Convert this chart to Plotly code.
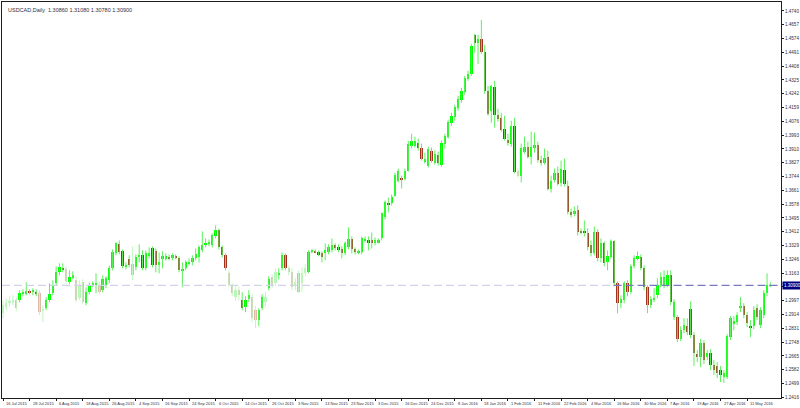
import plotly.graph_objects as go

SYMBOL_TITLE = "USDCAD,Daily  1.30860 1.31080 1.30780 1.30900"

OPENS = [
    1.2922, 1.2958, 1.2982, 1.2988, 1.3000, 1.3000, 1.3042, 1.3042, 1.3048, 1.3048,
    1.3048, 1.3042, 1.2934, 1.2952, 1.3000, 1.3042, 1.3102, 1.3168, 1.3192, 1.3186,
    1.3108, 1.3138, 1.3120, 1.3012, 1.3108, 1.2982, 1.3048, 1.3090, 1.3096, 1.3090,
    1.3060, 1.3090, 1.3120, 1.3192, 1.3282, 1.3336, 1.3294, 1.3204, 1.3246, 1.3216,
    1.3198, 1.3264, 1.3270, 1.3192, 1.3270, 1.3312, 1.3294, 1.3210, 1.3252, 1.3252,
    1.3258, 1.3252, 1.3264, 1.3252, 1.3180, 1.3192, 1.3222, 1.3228, 1.3252, 1.3258,
    1.3300, 1.3330, 1.3336, 1.3330, 1.3384, 1.3420, 1.3318, 1.3270, 1.3162, 1.3090,
    1.3018, 1.3060, 1.3000, 1.2958, 1.3006, 1.3018, 1.2940, 1.2880, 1.2952, 1.2988,
    1.3072, 1.3138, 1.3102, 1.3156, 1.3192, 1.3270, 1.3192, 1.3168, 1.3090, 1.3162,
    1.3102, 1.3162, 1.3168, 1.3288, 1.3294, 1.3288, 1.3282, 1.3282, 1.3288, 1.3300,
    1.3330, 1.3318, 1.3306, 1.3282, 1.3318, 1.3366, 1.3306, 1.3282, 1.3288, 1.3360,
    1.3360, 1.3360, 1.3342, 1.3348, 1.3372, 1.3498, 1.3582, 1.3582, 1.3630, 1.3720,
    1.3732, 1.3732, 1.3780, 1.3930, 1.3930, 1.3948, 1.3918, 1.3834, 1.3810, 1.3900,
    1.3828, 1.3876, 1.3816, 1.3942, 1.3984, 1.4068, 1.4104, 1.4158, 1.4206, 1.4254,
    1.4332, 1.4362, 1.4596, 1.4548, 1.4572, 1.4494, 1.4260, 1.4140, 1.4284, 1.4116,
    1.4098, 1.4032, 1.3966, 1.3942, 1.4050, 1.3780, 1.3750, 1.3894, 1.3924, 1.3864,
    1.3918, 1.3936, 1.3846, 1.3828, 1.3864, 1.3672, 1.3726, 1.3768, 1.3708, 1.3786,
    1.3690, 1.3528, 1.3516, 1.3540, 1.3414, 1.3414, 1.3402, 1.3330, 1.3282, 1.3408,
    1.3252, 1.3342, 1.3228, 1.3258, 1.3354, 1.3102, 1.2982, 1.3000, 1.3102, 1.3048,
    1.3204, 1.3252, 1.3258, 1.3192, 1.3078, 1.2970, 1.3000, 1.3030, 1.3090, 1.3090,
    1.3090, 1.3150, 1.2898, 1.2898, 1.2766, 1.2820, 1.2844, 1.2946, 1.2790, 1.2676,
    1.2658, 1.2742, 1.2658, 1.2682, 1.2610, 1.2604, 1.2580, 1.2538, 1.2538, 1.2778,
    1.2856, 1.2868, 1.2952, 1.2964, 1.2910, 1.2844, 1.2844, 1.2952, 1.2850, 1.2910,
    1.3042, 1.3086,
]
HIGHS = [
    1.3000, 1.3012, 1.3024, 1.3030, 1.3018, 1.3060, 1.3066, 1.3108, 1.3066, 1.3072,
    1.3066, 1.3060, 1.2970, 1.3018, 1.3102, 1.3120, 1.3204, 1.3222, 1.3222, 1.3204,
    1.3180, 1.3174, 1.3144, 1.3120, 1.3126, 1.3078, 1.3108, 1.3114, 1.3162, 1.3114,
    1.3150, 1.3144, 1.3210, 1.3306, 1.3348, 1.3360, 1.3306, 1.3228, 1.3270, 1.3324,
    1.3276, 1.3336, 1.3300, 1.3300, 1.3318, 1.3324, 1.3312, 1.3288, 1.3294, 1.3282,
    1.3276, 1.3282, 1.3276, 1.3264, 1.3228, 1.3240, 1.3252, 1.3270, 1.3312, 1.3330,
    1.3414, 1.3372, 1.3366, 1.3402, 1.3450, 1.3432, 1.3330, 1.3282, 1.3180, 1.3102,
    1.3084, 1.3084, 1.3048, 1.3024, 1.3060, 1.3036, 1.2964, 1.2952, 1.3036, 1.3048,
    1.3144, 1.3156, 1.3192, 1.3192, 1.3288, 1.3282, 1.3210, 1.3192, 1.3132, 1.3180,
    1.3198, 1.3216, 1.3300, 1.3306, 1.3306, 1.3300, 1.3294, 1.3342, 1.3336, 1.3372,
    1.3342, 1.3336, 1.3324, 1.3354, 1.3438, 1.3384, 1.3318, 1.3306, 1.3384, 1.3384,
    1.3384, 1.3408, 1.3378, 1.3372, 1.3528, 1.3600, 1.3618, 1.3636, 1.3768, 1.3792,
    1.3750, 1.3792, 1.3960, 1.4002, 1.3984, 1.3972, 1.3942, 1.3888, 1.3924, 1.3918,
    1.3900, 1.3894, 1.3960, 1.4002, 1.4086, 1.4128, 1.4176, 1.4230, 1.4278, 1.4350,
    1.4380, 1.4542, 1.4602, 1.4596, 1.4686, 1.4536, 1.4290, 1.4296, 1.4320, 1.4152,
    1.4128, 1.4110, 1.4002, 1.4080, 1.4098, 1.3798, 1.3942, 1.3984, 1.3954, 1.4014,
    1.4008, 1.3954, 1.3870, 1.3912, 1.3900, 1.3750, 1.3792, 1.3804, 1.3840, 1.3852,
    1.3720, 1.3552, 1.3564, 1.3570, 1.3432, 1.3480, 1.3432, 1.3360, 1.3444, 1.3426,
    1.3372, 1.3354, 1.3300, 1.3366, 1.3360, 1.3114, 1.3030, 1.3114, 1.3120, 1.3216,
    1.3270, 1.3294, 1.3276, 1.3210, 1.3090, 1.3024, 1.3072, 1.3132, 1.3168, 1.3180,
    1.3180, 1.3180, 1.3006, 1.2910, 1.2844, 1.2892, 1.2892, 1.2994, 1.2808, 1.2700,
    1.2766, 1.2760, 1.2700, 1.2706, 1.2640, 1.2628, 1.2604, 1.2580, 1.2796, 1.2904,
    1.2904, 1.2928, 1.3018, 1.2982, 1.2928, 1.2880, 1.2964, 1.2976, 1.2958, 1.3060,
    1.3162, 1.3108,
]
LOWS = [
    1.2892, 1.2940, 1.2964, 1.2970, 1.2934, 1.2988, 1.3024, 1.3030, 1.3036, 1.3030,
    1.3024, 1.2910, 1.2868, 1.2940, 1.2988, 1.3030, 1.3090, 1.3150, 1.3168, 1.3096,
    1.3096, 1.3126, 1.2988, 1.3000, 1.2976, 1.2970, 1.3036, 1.3078, 1.3042, 1.3036,
    1.3048, 1.3072, 1.3102, 1.3180, 1.3270, 1.3276, 1.3192, 1.3186, 1.3198, 1.3120,
    1.3180, 1.3228, 1.3180, 1.3180, 1.3252, 1.3198, 1.3168, 1.3162, 1.3192, 1.3240,
    1.3240, 1.3240, 1.3246, 1.3168, 1.3078, 1.3180, 1.3210, 1.3210, 1.3240, 1.3228,
    1.3288, 1.3318, 1.3324, 1.3318, 1.3372, 1.3306, 1.3258, 1.3180, 1.3078, 1.3024,
    1.2994, 1.3000, 1.2940, 1.2928, 1.2988, 1.2868, 1.2832, 1.2844, 1.2940, 1.2964,
    1.3060, 1.3072, 1.3084, 1.3126, 1.3180, 1.3180, 1.3150, 1.3060, 1.3060, 1.3042,
    1.3048, 1.3144, 1.3162, 1.3282, 1.3282, 1.3264, 1.3228, 1.3240, 1.3276, 1.3288,
    1.3300, 1.3288, 1.3252, 1.3270, 1.3306, 1.3282, 1.3276, 1.3276, 1.3276, 1.3348,
    1.3300, 1.3312, 1.3330, 1.3342, 1.3360, 1.3486, 1.3528, 1.3570, 1.3624, 1.3708,
    1.3672, 1.3720, 1.3774, 1.3912, 1.3918, 1.3900, 1.3840, 1.3822, 1.3798, 1.3828,
    1.3816, 1.3810, 1.3804, 1.3912, 1.3972, 1.4050, 1.4080, 1.4140, 1.4188, 1.4236,
    1.4320, 1.4350, 1.4488, 1.4422, 1.4482, 1.4242, 1.4110, 1.4068, 1.4038, 1.4074,
    1.4014, 1.3960, 1.3930, 1.3924, 1.3762, 1.3738, 1.3708, 1.3882, 1.3852, 1.3816,
    1.3888, 1.3828, 1.3810, 1.3816, 1.3660, 1.3648, 1.3708, 1.3690, 1.3684, 1.3684,
    1.3516, 1.3498, 1.3504, 1.3390, 1.3396, 1.3384, 1.3300, 1.3264, 1.3270, 1.3234,
    1.3228, 1.3204, 1.3180, 1.3246, 1.3084, 1.2922, 1.2952, 1.2982, 1.3024, 1.3036,
    1.3192, 1.3240, 1.3180, 1.3060, 1.2922, 1.2952, 1.2988, 1.3012, 1.3078, 1.3072,
    1.3078, 1.2970, 1.2880, 1.2748, 1.2754, 1.2802, 1.2790, 1.2772, 1.2604, 1.2628,
    1.2598, 1.2616, 1.2640, 1.2580, 1.2550, 1.2532, 1.2508, 1.2502, 1.2526, 1.2760,
    1.2820, 1.2850, 1.2928, 1.2892, 1.2838, 1.2778, 1.2826, 1.2880, 1.2832, 1.2892,
    1.3024, 1.3078,
]
CLOSES = [
    1.2970, 1.2982, 1.2994, 1.3000, 1.2952, 1.3042, 1.3048, 1.3054, 1.3046, 1.3060,
    1.3042, 1.2928, 1.2946, 1.3000, 1.3036, 1.3084, 1.3168, 1.3198, 1.3186, 1.3114,
    1.3138, 1.3150, 1.3000, 1.3090, 1.2988, 1.3048, 1.3090, 1.3102, 1.3102, 1.3048,
    1.3126, 1.3132, 1.3192, 1.3288, 1.3342, 1.3288, 1.3204, 1.3210, 1.3210, 1.3150,
    1.3258, 1.3270, 1.3192, 1.3282, 1.3282, 1.3210, 1.3210, 1.3228, 1.3264, 1.3264,
    1.3252, 1.3270, 1.3258, 1.3180, 1.3186, 1.3228, 1.3228, 1.3252, 1.3276, 1.3318,
    1.3330, 1.3342, 1.3348, 1.3390, 1.3420, 1.3318, 1.3270, 1.3192, 1.3090, 1.3042,
    1.3060, 1.3030, 1.2952, 1.3000, 1.3030, 1.2892, 1.2880, 1.2940, 1.3018, 1.3018,
    1.3126, 1.3090, 1.3168, 1.3162, 1.3270, 1.3192, 1.3168, 1.3078, 1.3108, 1.3048,
    1.3162, 1.3192, 1.3288, 1.3300, 1.3288, 1.3276, 1.3258, 1.3300, 1.3318, 1.3330,
    1.3318, 1.3300, 1.3282, 1.3342, 1.3366, 1.3306, 1.3288, 1.3294, 1.3372, 1.3366,
    1.3348, 1.3342, 1.3360, 1.3360, 1.3522, 1.3588, 1.3576, 1.3624, 1.3756, 1.3780,
    1.3726, 1.3780, 1.3942, 1.3960, 1.3960, 1.3918, 1.3852, 1.3852, 1.3912, 1.3840,
    1.3882, 1.3828, 1.3948, 1.3990, 1.4074, 1.4110, 1.4164, 1.4212, 1.4260, 1.4338,
    1.4362, 1.4530, 1.4548, 1.4572, 1.4494, 1.4260, 1.4122, 1.4290, 1.4116, 1.4092,
    1.4026, 1.3972, 1.3948, 1.4050, 1.3774, 1.3750, 1.3918, 1.3924, 1.3864, 1.3924,
    1.3936, 1.3846, 1.3828, 1.3858, 1.3672, 1.3720, 1.3768, 1.3702, 1.3792, 1.3702,
    1.3528, 1.3510, 1.3534, 1.3408, 1.3408, 1.3402, 1.3318, 1.3282, 1.3408, 1.3252,
    1.3342, 1.3222, 1.3264, 1.3354, 1.3102, 1.2982, 1.3006, 1.3102, 1.3048, 1.3204,
    1.3252, 1.3264, 1.3192, 1.3078, 1.2970, 1.3006, 1.3012, 1.3090, 1.3138, 1.3138,
    1.3150, 1.2988, 1.2988, 1.2766, 1.2820, 1.2850, 1.2808, 1.2790, 1.2682, 1.2658,
    1.2742, 1.2640, 1.2682, 1.2610, 1.2580, 1.2562, 1.2550, 1.2562, 1.2784, 1.2892,
    1.2874, 1.2910, 1.2964, 1.2910, 1.2862, 1.2838, 1.2940, 1.2898, 1.2940, 1.3042,
    1.3090, 1.3090,
]

# bars washed out by the watermark in the original screenshot
FADED_BARS = [0, 1, 2, 3, 4, 11, 12, 19, 22, 23, 24, 29, 39, 68, 69, 70, 71, 75, 76,
              79, 81, 82, 86, 87, 88, 89, 90, 91, 155]

DATE_LABELS = [
    "16 Jul 2015", "28 Jul 2015", "6 Aug 2015", "18 Aug 2015", "26 Aug 2015",
    "4 Sep 2015", "16 Sep 2015", "24 Sep 2015", "6 Oct 2015", "14 Oct 2015",
    "26 Oct 2015", "3 Nov 2015", "13 Nov 2015", "23 Nov 2015", "3 Dec 2015",
    "16 Dec 2015", "24 Dec 2015", "8 Jan 2016", "18 Jan 2016", "1 Feb 2016",
    "11 Feb 2016", "22 Feb 2016", "4 Mar 2016", "16 Mar 2016", "30 Mar 2016",
    "7 Apr 2016", "19 Apr 2016", "27 Apr 2016", "11 May 2016",
]
DATE_LABEL_STEP = 8

PRICE_TICKS = [
    1.4740, 1.4657, 1.4574, 1.4491, 1.4408, 1.4325, 1.4242, 1.4159, 1.4076, 1.3993,
    1.3910, 1.3827, 1.3744, 1.3661, 1.3578, 1.3495, 1.3412, 1.3329, 1.3246, 1.3163,
    1.3080, 1.2997, 1.2914, 1.2831, 1.2748, 1.2665, 1.2582, 1.2499, 1.2416,
]

COLORS = {
    "bull": "#00ff00",
    "bear": "#a3301e",
    "bull_faded": "#b4f7b4",
    "bear_faded": "#dcb8a8",
    "wick": "#5cf05c",
    "wick_faded": "#c4f5c4",
    "axis": "#1e1e1e",
    "text": "#303040",
    "bid_light": "#d2d2e8",
    "bid_dark": "#7878be",
    "bid_box": "#000080",
}
FONT = "Liberation Sans, Arial, sans-serif"

index = list(range(len(CLOSES)))
faded = set(FADED_BARS)

# wicks
wick_x, wick_y, fwick_x, fwick_y = [], [], [], []
for i in index:
    xs, ys = (fwick_x, fwick_y) if i in faded else (wick_x, wick_y)
    xs += [i, i, None]
    ys += [LOWS[i], HIGHS[i], None]

# bodies
body_base, body_height, body_color = [], [], []
for i in index:
    o, c = OPENS[i], CLOSES[i]
    bull = c >= o
    body_base.append(min(o, c))
    body_height.append(max(abs(c - o), 0.0004))
    key = "bull" if bull else "bear"
    if i in faded:
        key += "_faded"
    body_color.append(COLORS[key])

fig = go.Figure()
fig.add_trace(go.Scatter(x=fwick_x, y=fwick_y, mode="lines",
                         line={"color": COLORS["wick_faded"], "width": 1},
                         hoverinfo="skip"))
fig.add_trace(go.Scatter(x=wick_x, y=wick_y, mode="lines",
                         line={"color": COLORS["wick"], "width": 1},
                         hoverinfo="skip"))
fig.add_trace(go.Bar(x=index, y=body_height, base=body_base, width=0.7,
                     marker={"color": body_color, "line": {"width": 0}},
                     hoverinfo="skip"))

last_price = CLOSES[-1]
split_bar = 183.8
x_range = [-0.3, 234.2]

# bid line, faded on the left like the reference
fig.add_shape(type="line", xref="x", yref="y", x0=x_range[0], x1=split_bar,
              y0=last_price, y1=last_price,
              line={"color": COLORS["bid_light"], "width": 1.3, "dash": "8px,4px"})
fig.add_shape(type="line", xref="x", yref="y", x0=split_bar, x1=x_range[1],
              y0=last_price, y1=last_price,
              line={"color": COLORS["bid_dark"], "width": 1.3, "dash": "8px,4px"})

fig.add_annotation(text=f"{last_price:.5f}", xref="paper", yref="y", x=1, y=last_price,
                   xanchor="left", yanchor="middle", xshift=1, showarrow=False,
                   bgcolor=COLORS["bid_box"], borderpad=1,
                   font={"family": FONT, "size": 4.5, "color": "#ffffff"})

fig.add_annotation(text=SYMBOL_TITLE, xref="paper", yref="paper", x=0, y=1,
                   xanchor="left", yanchor="top", xshift=4, yshift=-3, showarrow=False,
                   font={"family": FONT, "size": 5.5, "color": COLORS["text"]})

tick_bars = [k * DATE_LABEL_STEP for k in range(len(DATE_LABELS))]
for bar, label in zip(tick_bars, DATE_LABELS):
    fig.add_annotation(text=label, xref="x", yref="paper", x=bar, y=0,
                       xanchor="left", yanchor="top", xshift=1, yshift=-1,
                       showarrow=False,
                       font={"family": FONT, "size": 4, "color": COLORS["text"]})

# the grid label under the bid box is hidden in the reference
price_text = [
    "" if abs(v - last_price) < 0.0012 else f"{v:.4f}" for v in PRICE_TICKS
]

fig.update_layout(
    width=800,
    height=408,
    margin={"l": 1, "r": 17, "t": 1, "b": 10},
    paper_bgcolor="#ffffff",
    plot_bgcolor="#ffffff",
    showlegend=False,
    bargap=0,
    hovermode=False,
    font={"family": FONT, "size": 5, "color": COLORS["text"]},
)
fig.update_xaxes(
    range=x_range,
    tickmode="array",
    tickvals=tick_bars,
    showticklabels=False,
    ticks="outside",
    ticklen=2,
    tickcolor=COLORS["axis"],
    showgrid=False,
    zeroline=False,
    showline=True,
    linecolor=COLORS["axis"],
    linewidth=1,
    mirror=True,
)
fig.update_yaxes(
    range=[1.2412, 1.4794],
    side="right",
    tickmode="array",
    tickvals=PRICE_TICKS,
    ticktext=price_text,
    ticks="outside",
    ticklen=2,
    tickcolor=COLORS["axis"],
    tickfont={"family": FONT, "size": 4.6, "color": COLORS["text"]},
    showgrid=False,
    zeroline=False,
    showline=True,
    linecolor=COLORS["axis"],
    linewidth=1,
    mirror=True,
)

# the page body has a default 8px margin; remove it so the figure fills the window
fig.write_html("out.html", config={"displayModeBar": False},
               post_script="document.body.style.margin='0';")
